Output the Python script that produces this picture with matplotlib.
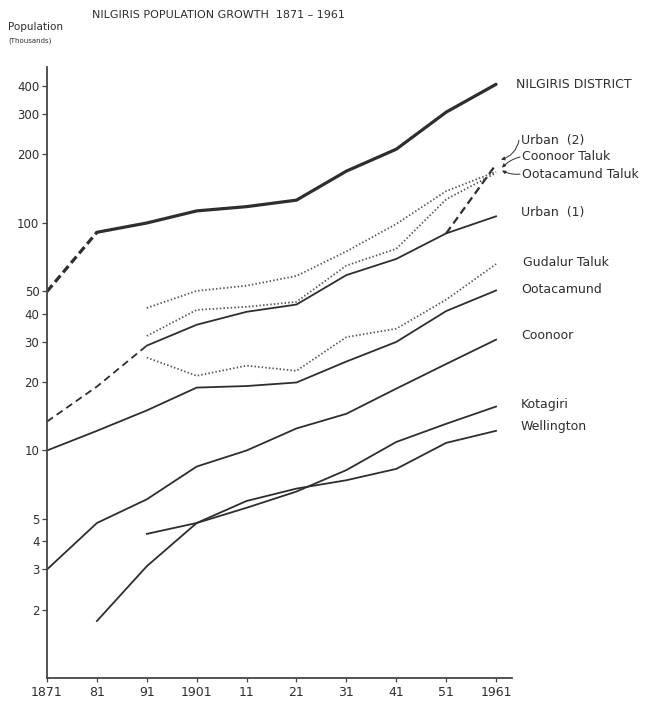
import matplotlib
matplotlib.use("Agg")
import matplotlib.pyplot as plt
from matplotlib.ticker import FixedLocator, NullLocator, FixedFormatter

# census years and populations (thousands)
years = [1871, 1881, 1891, 1901, 1911, 1921, 1931, 1941, 1951, 1961]
year_labels = ["1871", "81", "91", "1901", "11", "21", "31", "41", "51", "1961"]

district = [50, 91, 100, 113, 118, 126, 169, 211, 307, 407]
urban1 = [13.4, 19.1, 28.9, 35.7, 40.7, 43.8, 59, 69.5, 90, 107]
urban2_years = [1951, 1961]
urban2 = [90, 181]

taluk_years = [1891, 1901, 1911, 1921, 1931, 1941, 1951, 1961]
coonoor_taluk = [42.3, 50.3, 53, 58.5, 75, 99, 138, 168]
ooty_taluk = [31.9, 41.5, 42.8, 45, 65, 77, 127, 166]
gudalur_taluk = [25.6, 21.3, 23.6, 22.4, 31.5, 34.3, 46, 66]

ootacamund = [10, 12.2, 15, 18.9, 19.2, 19.9, 24.6, 30, 41, 50.5]
coonoor = [3.0, 4.8, 6.1, 8.5, 10, 12.5, 14.5, 18.7, 24, 30.7]
kotagiri_years = [1891, 1901, 1911, 1921, 1931, 1941, 1951, 1961]
kotagiri = [4.3, 4.8, 5.6, 6.6, 8.2, 10.9, 13.1, 15.6]
wellington_years = [1881, 1891, 1901, 1911, 1921, 1931, 1941, 1951, 1961]
wellington = [1.78, 3.1, 4.8, 6.0, 6.8, 7.4, 8.3, 10.8, 12.2]

yticks = [2, 3, 4, 5, 10, 20, 30, 40, 50, 100, 200, 300, 400]

INK = "#2e2e2e"
DOT = "#555555"
plt.rcParams["font.family"] = ["DejaVu Sans"]

fig = plt.figure(figsize=(6.53, 7.02), dpi=100)
ax = fig.add_axes([0.072, 0.0342, 0.7121, 0.8704])

# district total: dashed first decade, solid afterwards
ax.plot(years[:2], district[:2], color=INK, lw=2.3, ls=(0, (2.6, 1.3)))
ax.plot(years[1:], district[1:], color=INK, lw=2.3, solid_capstyle="round")

ax.plot(years[:3], urban1[:3], color=INK, lw=1.3, ls=(0, (4, 2.5)))
ax.plot(years[2:], urban1[2:], color=INK, lw=1.3)
ax.plot(urban2_years, urban2, color=INK, lw=1.6, ls=(0, (3.5, 2)))

for vals in (coonoor_taluk, ooty_taluk, gudalur_taluk):
    ax.plot(taluk_years, vals, color=DOT, lw=1.3, ls=(0, (0.8, 1.2)))

ax.plot(years, ootacamund, color=INK, lw=1.3)
ax.plot(years, coonoor, color=INK, lw=1.3)
ax.plot(kotagiri_years, kotagiri, color=INK, lw=1.3)
ax.plot(wellington_years, wellington, color=INK, lw=1.3)

ax.set_yscale("log")
ax.set_xlim(1871, 1964.2)
ax.set_ylim(1, 485)
ax.yaxis.set_major_locator(FixedLocator(yticks))
ax.yaxis.set_major_formatter(FixedFormatter([str(t) for t in yticks]))
ax.yaxis.set_minor_locator(NullLocator())
ax.set_xticks(years)
ax.set_xticklabels(year_labels)

for s in ("top", "right"):
    ax.spines[s].set_visible(False)
for s in ("left", "bottom"):
    ax.spines[s].set_color("#444444")
    ax.spines[s].set_linewidth(1.3)
ax.tick_params(axis="y", direction="out", length=3.5, width=0.9, colors="#444444",
               labelcolor=INK, labelsize=8.5, pad=2)
ax.tick_params(axis="x", direction="out", length=3, width=0.9, colors="#444444",
               labelcolor=INK, labelsize=9, pad=3)

# series names to the right of the plot
labels = [
    ("NILGIRIS DISTRICT", 1965.0, 408),
    ("Urban  (2)", 1966.0, 231),
    ("Coonoor Taluk", 1966.2, 195),
    ("Ootacamund Taluk", 1966.2, 164),
    ("Urban  (1)", 1966.0, 111),
    ("Gudalur Taluk", 1966.4, 66.8),
    ("Ootacamund", 1966.0, 51),
    ("Coonoor", 1966.0, 31.9),
    ("Kotagiri", 1966.0, 15.9),
    ("Wellington", 1966.0, 12.7),
]
for txt, x, y in labels:
    ax.text(x, y, txt, fontsize=9, color=INK, ha="left", va="center", clip_on=False)

# small leader arrows to the converging lines
leaders = [((1965.6, 231), (1962.0, 190), -0.3),
           ((1965.8, 195), (1962.2, 175), 0.15),
           ((1965.8, 164), (1962.2, 170), -0.15)]
for (tx, ty), (px, py), rad in leaders:
    ax.annotate("", xy=(px, py), xytext=(tx, ty), annotation_clip=False,
                arrowprops=dict(arrowstyle="-|>", color=INK, lw=0.7,
                                mutation_scale=5, shrinkA=0, shrinkB=0,
                                connectionstyle=f"arc3,rad={rad}"))

fig.text(218 / 653, 1 - 15 / 702, "NILGIRIS POPULATION GROWTH  1871 – 1961",
         ha="center", va="center", fontsize=8, color=INK)
fig.text(8 / 653, 1 - 27 / 702, "Population", ha="left", va="center",
         fontsize=7.5, color=INK)
fig.text(8 / 653, 1 - 41 / 702, "(Thousands)", ha="left", va="center",
         fontsize=5, color=INK)

fig.savefig("out.png", dpi=100, facecolor="white")
